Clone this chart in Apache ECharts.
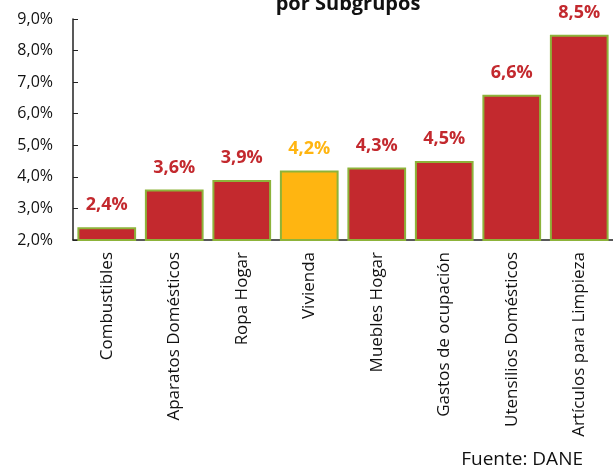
<!DOCTYPE html>
<html><head><meta charset="utf-8">
<script src="https://cdn.jsdelivr.net/npm/echarts@6/dist/echarts.min.js"></script>
<style>html,body{margin:0;padding:0;background:#fff}#c{width:613px;height:469px}</style>
</head><body><div id="c"></div>
<script>
const categories = ["Combustibles","Aparatos Domésticos","Ropa Hogar","Vivienda","Muebles Hogar","Gastos de ocupación","Utensilios Domésticos","Artículos para Limpieza"];
const values = [2.4, 3.6, 3.9, 4.2, 4.3, 4.5, 6.6, 8.5];
const highlight = "Vivienda";
const yTicks = {min: 2, max: 9, interval: 1};

const RED = "#C3292E", ORANGE = "#FFB511", GREEN = "#8DB33A";
const FONT = "Open Sans";
const chart = echarts.init(document.getElementById('c'));
chart.setOption({
  animation: false,
  textStyle: {fontFamily: FONT},
  grid: {left: 73, top: 19, width: 552, height: 221, containLabel: false},
  xAxis: {
    type: 'category', data: categories,
    axisLine: {lineStyle: {color: '#222', width: 1.5}},
    axisTick: {inside: true, length: 5, lineStyle: {color: '#222'}},
    axisLabel: {rotate: 90, fontSize: 17, color: '#111', fontFamily: FONT, margin: 12}
  },
  yAxis: {
    type: 'value', min: yTicks.min, max: yTicks.max, interval: yTicks.interval,
    splitLine: {show: false},
    axisLine: {show: true, lineStyle: {color: '#222', width: 1.5}},
    axisTick: {show: true, inside: true, length: 5, lineStyle: {color: '#222'}},
    axisLabel: {fontSize: 16, color: '#111', fontFamily: FONT, margin: 20,
      formatter: v => v.toFixed(1).replace('.', ',') + '%'}
  },
  series: [{
    type: 'bar', barWidth: '87%',
    data: values.map((v, i) => {
      const hi = categories[i] === highlight;
      return {
        value: v,
        itemStyle: {color: hi ? ORANGE : RED, borderColor: GREEN, borderWidth: 2},
        label: {color: hi ? ORANGE : RED}
      };
    }),
    label: {show: true, position: 'top', distance: 13, fontSize: 18, fontWeight: 'bold',
      fontFamily: FONT, formatter: p => p.value.toFixed(1).replace('.', ',') + '%'}
  }],
  graphic: [
    {type: 'text', x: 348, y: 14, style: {text: 'por Subgrupos', font: 'bold 20px "Open Sans"', fill: '#111', align: 'center', verticalAlign: 'bottom'}},
    {type: 'text', x: 583, y: 469, style: {text: 'Fuente: DANE', font: '19px "Open Sans"', fill: '#111', align: 'right', verticalAlign: 'bottom'}}
  ]
});
</script></body></html>
